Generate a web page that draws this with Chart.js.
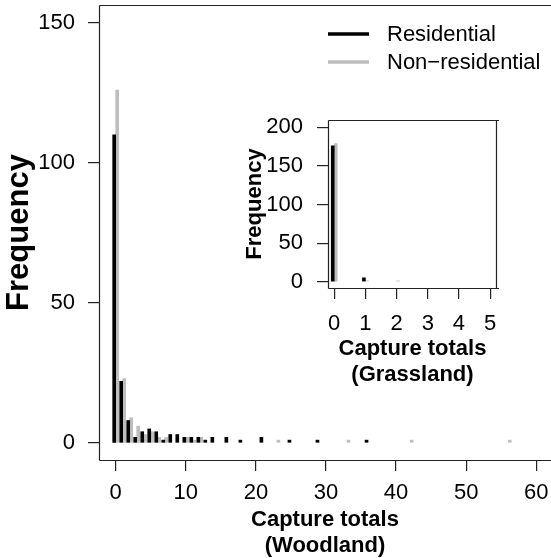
<!DOCTYPE html>
<html>
<head>
<meta charset="utf-8">
<script src="https://cdn.jsdelivr.net/npm/chart.js@4/dist/chart.umd.min.js"></script>
<style>
  html, body { margin: 0; padding: 0; background: #fff; }
  #wrap { position: relative; width: 551px; height: 558px; }
  #main { position: absolute; left: 0; top: 0; }
  #inset { position: absolute; left: 240px; top: 115px; }
</style>
</head>
<body>
<div id="wrap">
  <canvas id="main" width="551" height="558"></canvas>
  <canvas id="inset" width="270" height="275"></canvas>
</div>
<script>
// ---- Data ----
const seriesNames = ["Residential", "Non\u2212residential"];
const seriesColors = ["#000000", "#bebebe"];

// Woodland capture totals (main plot)
const woodResX = [0, 1, 2, 3, 4, 5, 6, 7, 8, 9, 10, 11, 12, 13, 14, 16, 18, 21, 25, 29, 36];
const woodResY = [110, 22, 8, 2, 4, 5, 4, 1, 3, 3, 2, 2, 2, 1, 2, 2, 1, 2, 1, 1, 1];
const woodNonX = [0, 1, 2, 3, 4, 5, 6, 7, 10, 11, 12, 23, 33, 42, 56];
const woodNonY = [126, 23, 9, 6, 3, 4, 2, 2, 2, 1, 2, 1, 1, 1, 1];

// Grassland capture totals (inset)
const grassResX = [0, 1];
const grassResY = [176, 5];
const grassNonX = [0, 1, 2];
const grassNonY = [179, 1, 1];

// Tick labels
const mainXTicks = [0, 10, 20, 30, 40, 50, 60];
const mainYTicks = [0, 50, 100, 150];
const insetXTicks = [0, 1, 2, 3, 4, 5];
const insetYTicks = [0, 50, 100, 150, 200];

const mainXTitle = ["Capture totals", "(Woodland)"];
const insetXTitle = ["Capture totals", "(Grassland)"];
const yTitle = "Frequency";

// ---- Rendering ----
const FONT = '"Liberation Sans", Arial, Helvetica, sans-serif';
Chart.defaults.font.family = FONT;
Chart.defaults.color = "#000";

function pts(xs, ys) { return xs.map((x, i) => ({ x: x, y: ys[i] })); }

function boxPlugin(sides) {
  return {
    id: "box",
    afterDatasetsDraw(chart) {
      const { ctx, chartArea: a } = chart;
      ctx.save();
      ctx.strokeStyle = "#222";
      ctx.lineWidth = 1.2;
      ctx.beginPath();
      const L = Math.round(a.left) + 0.5, T = Math.round(a.top) + 0.5;
      const R = Math.round(a.right) - 0.5, B = Math.round(a.bottom) + 0.5;
      if (sides.includes("top")) { ctx.moveTo(L, T); ctx.lineTo(a.right + 2, T); }
      if (sides.includes("left")) { ctx.moveTo(L, T); ctx.lineTo(L, B); }
      if (sides.includes("bottom")) { ctx.moveTo(L, B); ctx.lineTo(a.right + 2, B); }
      if (sides.includes("right")) { ctx.moveTo(R, T); ctx.lineTo(R, B); }
      ctx.stroke();
      ctx.restore();
    }
  };
}

const legendPlugin = {
  id: "rlegend",
  afterDraw(chart) {
    const ctx = chart.ctx;
    ctx.save();
    const rows = [34, 62];
    seriesNames.forEach((name, i) => {
      ctx.strokeStyle = seriesColors[i];
      ctx.lineWidth = 3.5;
      ctx.beginPath();
      ctx.moveTo(328, rows[i]);
      ctx.lineTo(369, rows[i]);
      ctx.stroke();
      ctx.fillStyle = "#000";
      ctx.font = "22px " + FONT;
      ctx.textBaseline = "middle";
      ctx.textAlign = "left";
      ctx.fillText(name, 387, rows[i] + 1);
    });
    ctx.restore();
  }
};

function axisCfg(o) {
  return {
    type: "linear",
    min: o.min, max: o.max,
    offset: false,
    afterBuildTicks: (s) => { s.ticks = o.ticks.map(v => ({ value: v })); },
    afterFit: (s) => {
      o.afterFit(s);
      s.paddingTop = 0; s.paddingBottom = 0; s.paddingLeft = 0; s.paddingRight = 0;
    },
    grid: {
      display: true, drawOnChartArea: false, drawTicks: true,
      tickLength: o.tickLength, color: "#222", lineWidth: 1.2, offset: false
    },
    border: { display: false },
    ticks: {
      font: { size: o.tickSize }, color: "#000", padding: o.padding,
      maxRotation: 0, autoSkip: false, callback: (v) => String(v)
    },
    title: {
      display: true, text: o.title,
      font: { size: o.titleSize, weight: "bold", lineHeight: o.lineHeight || 1.2 },
      color: "#000", padding: o.titlePadding
    }
  };
}

new Chart(document.getElementById("main"), {
  type: "bar",
  data: {
    datasets: [
      { label: seriesNames[0], data: pts(woodResX, woodResY), backgroundColor: seriesColors[0], barThickness: 3 },
      { label: seriesNames[1], data: pts(woodNonX, woodNonY), backgroundColor: seriesColors[1], barThickness: 3 }
    ]
  },
  options: {
    responsive: false, animation: false, devicePixelRatio: 1,
    layout: { padding: { top: 5, right: 0, left: 0, bottom: 0 } },
    plugins: { legend: { display: false }, tooltip: { enabled: false } },
    scales: {
      x: axisCfg({
        min: -2.38, max: 62.1, ticks: mainXTicks, tickLength: 11, tickSize: 22, padding: 9,
        title: mainXTitle, titleSize: 22, lineHeight: 1.14, titlePadding: { top: 0, bottom: 0 },
        afterFit: (s) => { s.height = 98; }
      }),
      y: axisCfg({
        min: -6.1, max: 156.4, ticks: mainYTicks, tickLength: 11, tickSize: 22, padding: 13,
        title: yTitle, titleSize: 31, titlePadding: { top: 1, bottom: 0 },
        afterFit: (s) => { s.width = 99; }
      })
    }
  },
  plugins: [boxPlugin(["top", "left", "bottom"]), legendPlugin]
});

new Chart(document.getElementById("inset"), {
  type: "bar",
  data: {
    datasets: [
      { label: seriesNames[0], data: pts(grassResX, grassResY), backgroundColor: seriesColors[0], barThickness: 3 },
      { label: seriesNames[1], data: pts(grassNonX, grassNonY), backgroundColor: seriesColors[1], barThickness: 3 }
    ]
  },
  options: {
    responsive: false, animation: false, devicePixelRatio: 1,
    layout: { padding: { top: 5, right: 13, left: 0, bottom: 0 } },
    plugins: { legend: { display: false }, tooltip: { enabled: false } },
    scales: {
      x: axisCfg({
        min: -0.2, max: 5.22, ticks: insetXTicks, tickLength: 11, tickSize: 22, padding: 12,
        title: insetXTitle, titleSize: 22, lineHeight: 1.14, titlePadding: { top: 0, bottom: 3 },
        afterFit: (s) => { s.height = 102; }
      }),
      y: axisCfg({
        min: -8.2, max: 209.6, ticks: insetYTicks, tickLength: 11, tickSize: 22, padding: 14,
        title: yTitle, titleSize: 22, titlePadding: { top: 2, bottom: 0 },
        afterFit: (s) => { s.width = 88; }
      })
    }
  },
  plugins: [boxPlugin(["top", "left", "bottom", "right"])]
});
</script>
</body>
</html>
